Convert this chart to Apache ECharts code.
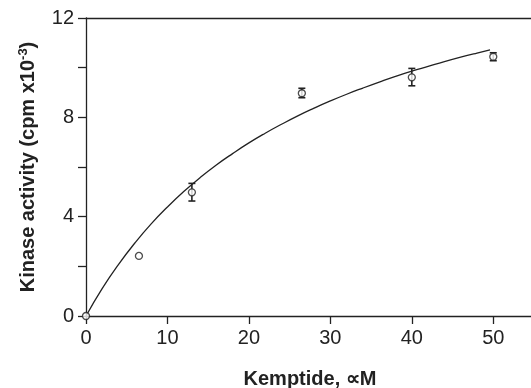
<!DOCTYPE html>
<html><head><meta charset="utf-8">
<script src="https://cdn.jsdelivr.net/npm/echarts@6/dist/echarts.min.js"></script>
<style>html,body{margin:0;padding:0;background:#fff}#c{width:531px;height:388px}</style>
</head><body><div id="c"></div>
<script>
const pointX = [0, 6.5, 13, 26.5, 40, 50];
const pointY = [0, 2.42, 4.98, 8.97, 9.61, 10.44];
const errLow = [0, 2.42, 4.63, 8.79, 9.27, 10.28];
const errHigh = [0, 2.42, 5.34, 9.17, 9.97, 10.60];
const fitX = [0, 2, 4, 6, 8, 10, 12, 14, 16, 18, 20, 22, 24, 26, 28, 30, 32, 34, 36, 38, 40, 42, 44, 46, 48, 49.6];
const fitY = [0, 1.11, 2.08, 2.94, 3.71, 4.39, 5.01, 5.57, 6.08, 6.54, 6.97, 7.36, 7.72, 8.06, 8.37, 8.66, 8.93, 9.18, 9.42, 9.65, 9.86, 10.05, 10.24, 10.42, 10.59, 10.72];
const xTicks = [0, 10, 20, 30, 40, 50];
const yTicks = [0, 4, 8, 12];
const yMinorTicks = [0, 2, 4, 6, 8, 10, 12];

const ink = '#222';
const font = 'Liberation Sans, Arial, sans-serif';
const chart = echarts.init(document.getElementById('c'));
chart.setOption({
  animation: false,
  grid: { left: 86, top: 18, right: -3, bottom: 72, outerBoundsMode: 'none', containLabel: false },
  xAxis: [{
    type: 'value', min: 0, max: 55, interval: 10,
    name: 'Kemptide, ∝M', nameLocation: 'middle', nameGap: 53,
    nameTextStyle: { fontFamily: font, fontWeight: 'bold', fontSize: 20, color: ink },
    axisLine: { lineStyle: { color: ink, width: 1.3 } },
    axisTick: { show: true, length: 8, inside: false, customValues: xTicks, lineStyle: { color: ink, width: 1.3 } },
    axisLabel: { fontFamily: font, fontSize: 20, color: ink, margin: 12, customValues: xTicks },
    splitLine: { show: false }
  }, {
    type: 'value', position: 'top', min: 0, max: 55,
    axisLine: { show: true, lineStyle: { color: ink, width: 1.3 } },
    axisTick: { show: false }, axisLabel: { show: false }, splitLine: { show: false }
  }],
  yAxis: {
    type: 'value', min: 0, max: 12, interval: 2,
    name: 'Kinase activity (cpm x10{sup|-3})', nameLocation: 'middle', nameGap: 46, nameRotate: 90,
    nameTextStyle: { fontFamily: font, fontWeight: 'bold', fontSize: 20, color: ink,
      rich: { sup: { fontFamily: font, fontWeight: 'bold', fontSize: 13, color: ink, verticalAlign: 'top', padding: [0,0,10,0] } } },
    axisLine: { show: true, lineStyle: { color: ink, width: 1.3 } },
    axisTick: { show: true, length: 8, customValues: yMinorTicks, lineStyle: { color: ink, width: 1.3 } },
    axisLabel: { fontFamily: font, fontSize: 20, color: ink, margin: 12, customValues: yTicks },
    splitLine: { show: false }
  },
  series: [{
    type: 'line', data: fitX.map((x, i) => [x, fitY[i]]), smooth: true, showSymbol: false,
    lineStyle: { color: ink, width: 1.3 }, z: 2
  }, {
    type: 'custom',
    data: pointX.map((x, i) => [x, errLow[i], errHigh[i]]),
    renderItem: (params, api) => {
      const lo = api.coord([api.value(0), api.value(1)]);
      const hi = api.coord([api.value(0), api.value(2)]);
      if (Math.abs(lo[1] - hi[1]) < 1) return { type: 'group', children: [] };
      const w = 3.5;
      const st = { stroke: ink, lineWidth: 1.6 };
      return { type: 'group', children: [
        { type: 'line', shape: { x1: lo[0], y1: lo[1], x2: hi[0], y2: hi[1] }, style: st },
        { type: 'line', shape: { x1: lo[0]-w, y1: lo[1], x2: lo[0]+w, y2: lo[1] }, style: st },
        { type: 'line', shape: { x1: hi[0]-w, y1: hi[1], x2: hi[0]+w, y2: hi[1] }, style: st }
      ]};
    }, z: 3
  }, {
    type: 'scatter', data: pointX.map((x, i) => [x, pointY[i]]),
    symbol: 'circle', symbolSize: 7,
    itemStyle: { color: '#fff', borderColor: ink, borderWidth: 1.3 }, z: 4
  }]
});
</script></body></html>
